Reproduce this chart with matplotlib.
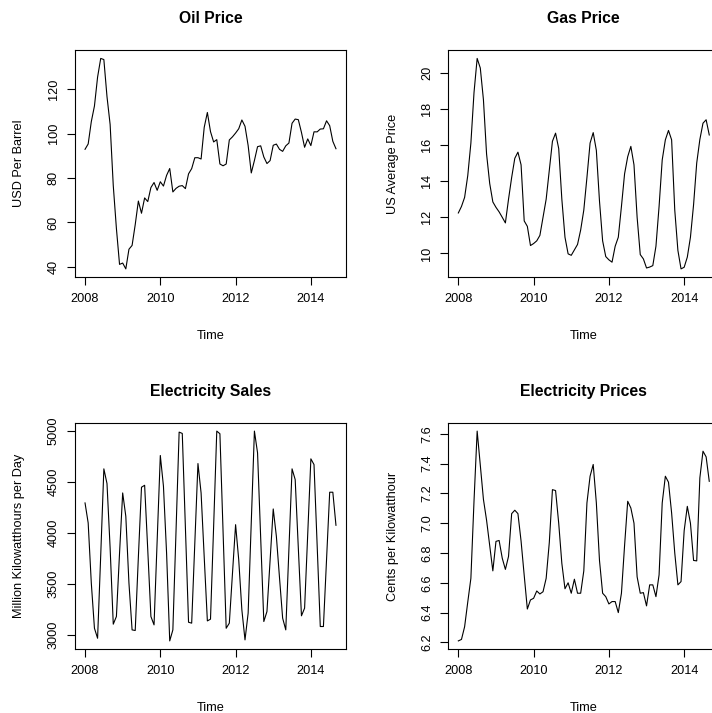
import matplotlib
matplotlib.use('Agg')
import matplotlib.pyplot as plt
import numpy as np

plt.rcParams['font.family'] = ['Liberation Sans', 'DejaVu Sans']

W, H, DPI = 712, 713, 100

start_year = 2008
oil = [92.95, 95.35, 105.42, 112.46, 125.46, 133.88, 133.37, 116.67, 104.11, 76.61, 57.31, 41.12,
       41.71, 39.09, 47.94, 49.65, 59.03, 69.64, 64.15, 71.05, 69.41, 75.72, 77.99, 74.47,
       78.33, 76.39, 81.20, 84.29, 73.74, 75.34, 76.32, 76.60, 75.24, 81.89, 84.25, 89.15,
       89.17, 88.58, 102.86, 109.53, 100.90, 96.26, 97.30, 86.33, 85.52, 86.32, 97.16, 98.56,
       100.27, 102.20, 106.16, 103.32, 94.66, 82.30, 87.90, 94.13, 94.51, 89.49, 86.53, 87.86,
       94.76, 95.31, 92.94, 92.02, 94.51, 95.77, 104.67, 106.57, 106.29, 100.54, 93.86, 97.63,
       94.62, 100.82, 100.80, 102.07, 102.18, 105.79, 103.59, 96.54, 93.21]
gas = [12.24, 12.6, 13.1, 14.3, 16.1, 18.9, 20.78, 20.25, 18.5, 15.5, 13.87, 12.85,
       12.55, 12.3, 12.0, 11.69, 13.0, 14.2, 15.26, 15.6, 14.9, 11.8, 11.5, 10.44,
       10.55, 10.7, 11.0, 12.0, 13.0, 14.6, 16.2, 16.65, 15.8, 13.0, 10.9, 9.98,
       9.9, 10.2, 10.5, 11.3, 12.4, 14.2, 16.1, 16.68, 15.7, 12.9, 10.7, 9.83,
       9.65, 9.52, 10.4, 10.9, 12.6, 14.4, 15.35, 15.92, 14.9, 12.0, 9.94, 9.7,
       9.2, 9.25, 9.33, 10.4, 12.6, 15.17, 16.28, 16.8, 16.28, 12.4, 10.17, 9.15,
       9.24, 9.8, 10.9, 12.7, 15.0, 16.3, 17.2, 17.39, 16.55]
sales = [4293, 4097, 3507, 3065, 2967, 3780, 4627, 4483, 3850, 3105, 3180, 3800,
         4391, 4162, 3507, 3049, 3043, 3760, 4447, 4466, 3830, 3180, 3098, 3930,
         4758, 4457, 3800, 2941, 3049, 4010, 4987, 4974, 4050, 3124, 3115, 3900,
         4679, 4391, 3760, 3137, 3154, 4064, 4997, 4971, 4018, 3065, 3115, 3600,
         4080, 3736, 3245, 2951, 3213, 4105, 4997, 4784, 3950, 3131, 3229, 3730,
         4234, 3966, 3560, 3164, 3049, 3840, 4627, 4522, 3850, 3187, 3262, 3990,
         4725, 4669, 3880, 3082, 3082, 3740, 4398, 4398, 4074]
eprice = [6.21, 6.22, 6.305, 6.47, 6.63, 7.15, 7.618, 7.39, 7.16, 7.02, 6.85, 6.68,
          6.878, 6.884, 6.765, 6.69, 6.777, 7.064, 7.087, 7.064, 6.88, 6.65, 6.424, 6.485,
          6.496, 6.545, 6.525, 6.54, 6.63, 6.87, 7.225, 7.219, 7.0, 6.73, 6.56, 6.60,
          6.53, 6.624, 6.53, 6.53, 6.68, 7.136, 7.315, 7.394, 7.136, 6.75, 6.53, 6.507,
          6.458, 6.474, 6.474, 6.40, 6.53, 6.85, 7.147, 7.102, 7.0, 6.64, 6.53, 6.534,
          6.445, 6.586, 6.586, 6.507, 6.653, 7.136, 7.315, 7.275, 7.068, 6.8, 6.586, 6.608,
          6.95, 7.113, 7.0, 6.75, 6.747, 7.304, 7.483, 7.445, 7.281]

xticks = [2008, 2010, 2012, 2014]
titles = ['Oil Price', 'Gas Price', 'Electricity Sales', 'Electricity Prices']
ylabels = ['USD Per Barrel', 'US Average Price', 'Million Kilowatthours per Day',
           'Cents per Kilowatthour']
yticks = [[40, 60, 80, 100, 120],
          [10, 12, 14, 16, 18, 20],
          [3000, 3500, 4000, 4500, 5000],
          [6.2, 6.4, 6.6, 6.8, 7.0, 7.2, 7.4, 7.6]]
yticklabels = [['40', '60', '80', '100', '120'],
               ['10', '12', '14', '16', '18', '20'],
               ['3000', '3500', '4000', '4500', '5000'],
               ['6.2', '6.4', '6.6', '6.8', '7.0', '7.2', '7.4', '7.6']]
series = [oil, gas, sales, eprice]

fig = plt.figure(figsize=(W / DPI, H / DPI), dpi=DPI)

# plot boxes in pixels (left, top, right, bottom); right column extends past the image edge
boxes = [(75, 50, 346, 277.3), (448.3, 50, 719.3, 277.3),
         (75, 422.7, 346, 649.3), (448.3, 422.7, 719.3, 649.3)]


def rlim(v):
    lo, hi = min(v), max(v)
    d = (hi - lo) * 0.04
    return lo - d, hi + d


t = start_year + np.arange(len(oil)) / 12.0
tick_fs = 9.2
for k in range(4):
    l, tp, r, b = boxes[k]
    ax = fig.add_axes([l / W, 1 - b / H, (r - l) / W, (b - tp) / H])
    y = series[k]
    ax.plot(t, y, color='black', lw=0.8)
    ax.set_xlim(*rlim(t))
    ax.set_ylim(*rlim(y))
    ax.set_xticks(xticks)
    ax.set_xticklabels([str(v) for v in xticks], fontsize=tick_fs)
    ax.set_yticks(yticks[k])
    ax.set_yticklabels(yticklabels[k], fontsize=tick_fs, rotation=90, va='center')
    ax.tick_params(direction='out', length=6, width=0.8, color='black', pad=5)
    for s in ax.spines.values():
        s.set_linewidth(0.8)
    ax.set_xlabel('Time', fontsize=tick_fs, labelpad=18)
    ax.set_ylabel(ylabels[k], fontsize=tick_fs, labelpad=16)
    ax.set_title(titles[k], fontsize=11.3, fontweight='bold', pad=19.5)

fig.savefig('out.png', dpi=DPI)
